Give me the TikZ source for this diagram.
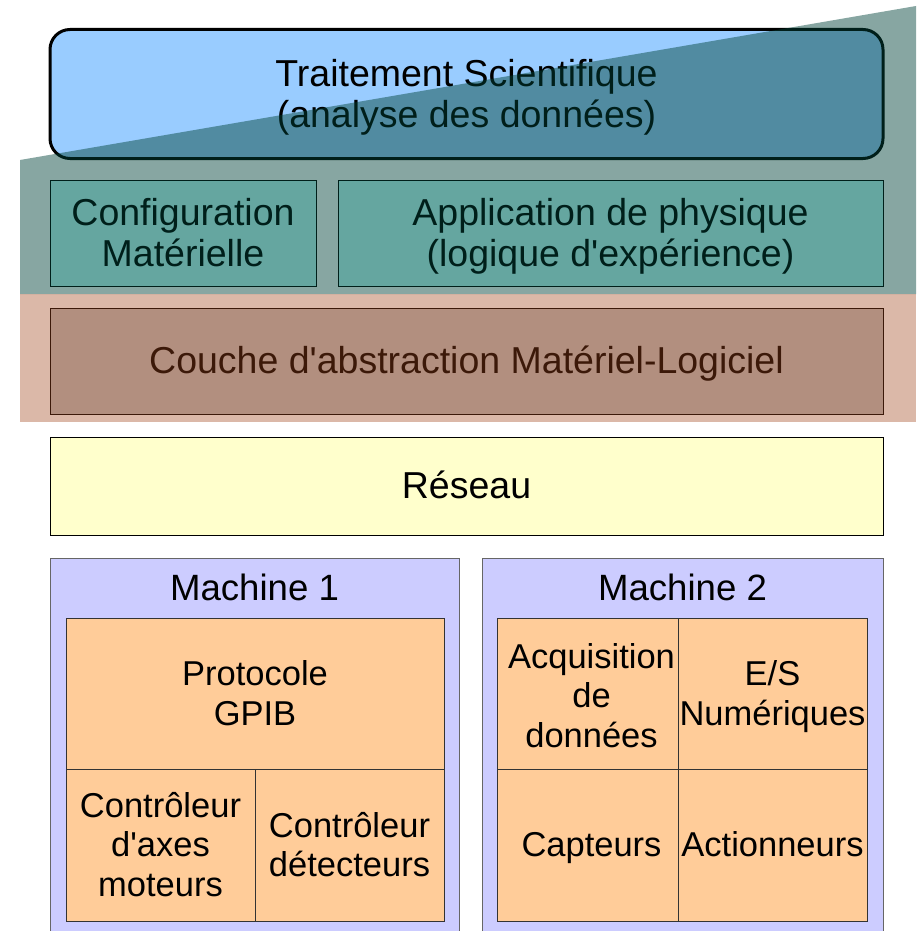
\documentclass[tikz,border=0pt]{standalone}
\usepackage{fontspec}
\setmainfont{Liberation Sans}
% line strut with the font's ascent and descent, so every line box is alike
\newcommand\lnstrut{\rule[-0.212em]{0pt}{1.117em}}
\newcommand\apos{\textquotesingle}
\begin{document}
\begin{tikzpicture}[x=1pt,y=-1pt,
  big/.style={font=\fontsize{37.5}{41.9}\selectfont},
  head/.style={font=\fontsize{36.6}{40.9}\selectfont},
  small/.style={font=\fontsize{34.5}{38.5}\selectfont},
  layerbox/.style={draw=black, line width=1pt, inner sep=0pt, align=center, big},
  cell/.style={draw=black!80, fill=cellfill, line width=1pt, inner sep=0pt},
  celltext/.style={inner sep=0pt, align=center, small},
  machine/.style={draw=black!60, fill=machfill, line width=1.2pt, inner sep=0pt}]
\definecolor{sciblue}{RGB}{153,204,255}
\definecolor{cfgfill}{RGB}{192,255,253}
\definecolor{halfill}{RGB}{190,190,190}
\definecolor{netfill}{RGB}{255,255,204}
\definecolor{machfill}{RGB}{204,204,255}
\definecolor{cellfill}{RGB}{255,204,153}
\definecolor{tealband}{RGB}{0,66,57}
\definecolor{pinkband}{RGB}{160,68,26}
\useasboundingbox (0,0) rectangle (916,931);
\clip (0,0) rectangle (916,931);

% software layers (under the translucent bands)
\node[layerbox, fill=sciblue, line width=3pt, rounded corners=20pt,
      minimum width=833pt, minimum height=129pt] (sci) at (466.5,94)
      {\lnstrut Traitement Scientifique\\\lnstrut(analyse des données)};
\node[layerbox, fill=cfgfill, minimum width=266pt, minimum height=106pt] (cfg) at (183,233)
      {\lnstrut Configuration\\\lnstrut Matérielle};
\node[layerbox, fill=cfgfill, minimum width=545pt, minimum height=106pt] (app) at (610.5,233)
      {\lnstrut Application de physique\\\lnstrut(logique d\apos expérience)};
\node[layerbox, fill=halfill, minimum width=833pt, minimum height=106pt] (hal) at (466.5,361)
      {\lnstrut Couche d\apos abstraction Matériel-Logiciel};

% translucent bands
\fill[tealband, opacity=0.47] (20,160) -- (916,6) -- (916,294) -- (20,294) -- cycle;
\fill[pinkband, opacity=0.38] (20,294) rectangle (916,422);

% network
\node[layerbox, fill=netfill, minimum width=833pt, minimum height=98pt] (net) at (466.5,486)
      {\lnstrut Réseau};

% machines
\node[machine, minimum width=409pt, minimum height=400pt, anchor=north west] (m1) at (50,558) {};
\node[head] (m1t) at (254.5,588) {\lnstrut Machine 1};
\node[machine, minimum width=401pt, minimum height=400pt, anchor=north west] (m2) at (482,558) {};
\node[head] (m2t) at (682.5,588) {\lnstrut Machine 2};

% machine 1 modules
\node[cell, minimum width=378pt, minimum height=151pt] (gpib) at (255,693.5) {};
\node[cell, minimum width=189pt, minimum height=152pt] (axes) at (160.5,845) {};
\node[cell, minimum width=189pt, minimum height=152pt] (det) at (349.5,845) {};
\node[celltext] (gpib-t) at (gpib) {\lnstrut Protocole\\\lnstrut GPIB};
\node[celltext] (axes-t) at (axes) {\lnstrut Contrôleur\\\lnstrut d\apos axes\\\lnstrut moteurs};
\node[celltext] (det-t) at (det) {\lnstrut Contrôleur\\\lnstrut détecteurs};

% machine 2 modules
\node[cell, minimum width=181pt, minimum height=151pt] (acq) at (587.5,693.5) {};
\node[cell, minimum width=189pt, minimum height=151pt] (io) at (772.5,693.5) {};
\node[cell, minimum width=181pt, minimum height=152pt] (capt) at (587.5,845) {};
\node[cell, minimum width=189pt, minimum height=152pt] (act) at (772.5,845) {};
\node[celltext] (acq-t) at ([xshift=4pt,yshift=-2.5pt]acq) {\lnstrut Acquisition\\\lnstrut de\\\lnstrut données};
\node[celltext] (io-t) at (io) {\lnstrut E/S\\\lnstrut Numériques};
\node[celltext] (capt-t) at ([xshift=4pt]capt) {\lnstrut Capteurs};
\node[celltext] (act-t) at (act) {\lnstrut Actionneurs};
\end{tikzpicture}
\end{document}
